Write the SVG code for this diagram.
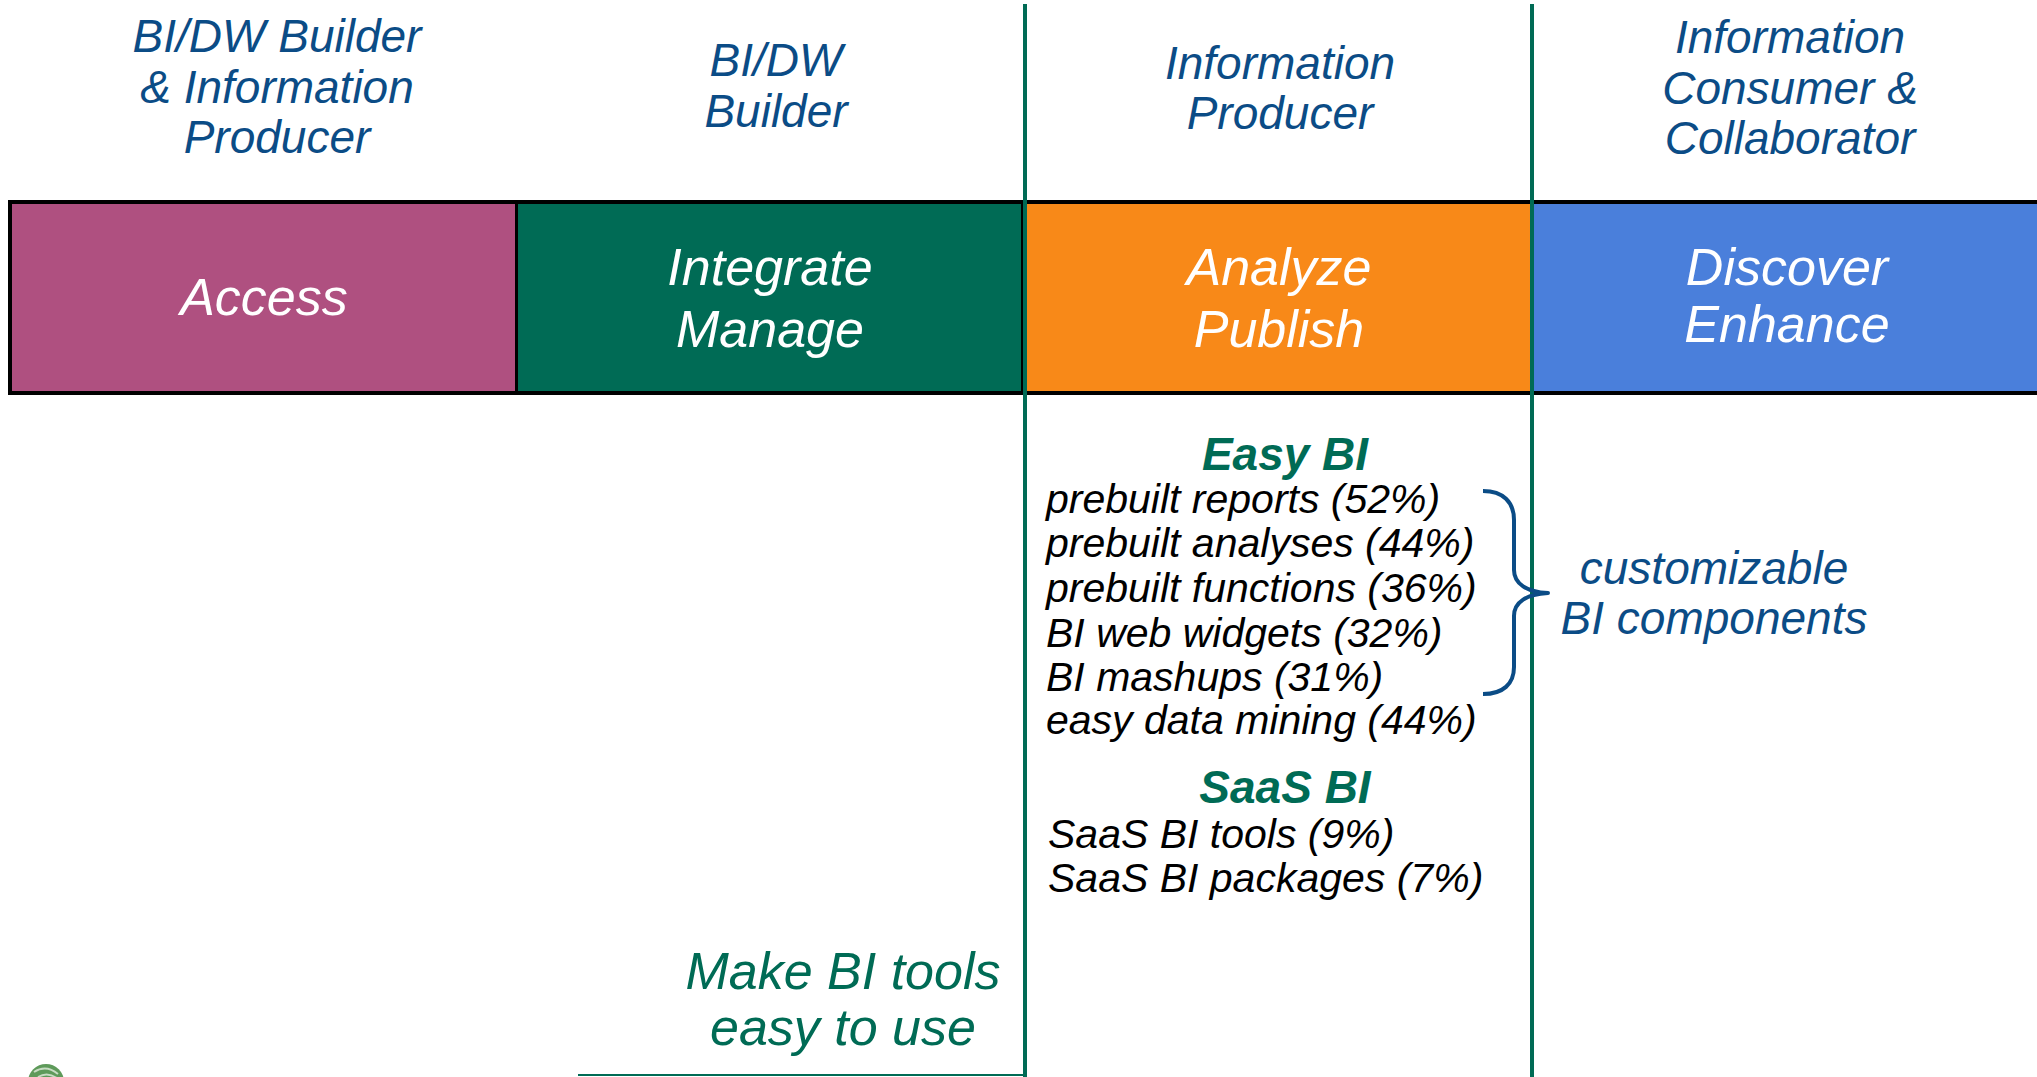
<svg xmlns="http://www.w3.org/2000/svg" width="2037" height="1077" viewBox="0 0 2037 1077">
<style>
  text { font-family: "Liberation Sans", Arial, sans-serif; font-style: italic; }
  .hdr { fill: #0B4C86; font-size: 46px; text-anchor: middle; }
  .band { fill: #FFFFFF; font-size: 52px; text-anchor: middle; }
  .ttl { fill: #006B55; font-size: 46px; font-weight: bold; text-anchor: middle; }
  .item { fill: #000000; font-size: 41px; }
  .note { fill: #0B4C86; font-size: 46px; text-anchor: middle; }
  .goal { fill: #006B55; font-size: 52px; text-anchor: middle; }
  .vline { stroke: #006B55; stroke-width: 4; fill: none; }
</style>
<rect x="0" y="0" width="2037" height="1077" fill="#FFFFFF"/>

<g id="headers">
  <g id="hdr-builder-producer">
    <text class="hdr" x="277" y="52">BI/DW Builder</text>
    <text class="hdr" x="277" y="103">&amp; Information</text>
    <text class="hdr" x="277" y="153">Producer</text>
  </g>
  <g id="hdr-builder">
    <text class="hdr" x="776" y="76">BI/DW</text>
    <text class="hdr" x="776" y="127">Builder</text>
  </g>
  <g id="hdr-producer">
    <text class="hdr" x="1280" y="79">Information</text>
    <text class="hdr" x="1280" y="129">Producer</text>
  </g>
  <g id="hdr-consumer">
    <text class="hdr" x="1790" y="53">Information</text>
    <text class="hdr" x="1790" y="104">Consumer &amp;</text>
    <text class="hdr" x="1790" y="154">Collaborator</text>
  </g>
</g>

<g id="band">
  <rect x="8" y="200" width="2032" height="195" fill="#000000"/>
  <g id="node-access">
    <rect x="12" y="204" width="503" height="187" fill="#AF5080"/>
    <text class="band" x="264" y="315">Access</text>
  </g>
  <g id="node-integrate">
    <rect x="518" y="204" width="503" height="187" fill="#006B55"/>
    <text class="band" x="770" y="285">Integrate</text>
    <text class="band" x="770" y="347">Manage</text>
  </g>
  <g id="node-analyze">
    <rect x="1023" y="204" width="507" height="187" fill="#F88918"/>
    <text class="band" x="1279" y="285">Analyze</text>
    <text class="band" x="1279" y="347">Publish</text>
  </g>
  <g id="node-discover">
    <rect x="1532" y="204" width="505" height="187" fill="#4A7FDB"/>
    <text class="band" x="1787" y="285">Discover</text>
    <text class="band" x="1787" y="342">Enhance</text>
  </g>
</g>

<g id="node-easy-bi">
  <text class="ttl" x="1285" y="470">Easy BI</text>
  <text class="item" x="1046" y="513">prebuilt reports (52%)</text>
  <text class="item" x="1046" y="557">prebuilt analyses (44%)</text>
  <text class="item" x="1046" y="602">prebuilt functions (36%)</text>
  <text class="item" x="1046" y="647">BI web widgets (32%)</text>
  <text class="item" x="1046" y="691">BI mashups (31%)</text>
  <text class="item" x="1046" y="734">easy data mining (44%)</text>
</g>

<g id="node-saas-bi">
  <text class="ttl" x="1285" y="803">SaaS BI</text>
  <text class="item" x="1048" y="848">SaaS BI tools (9%)</text>
  <text class="item" x="1048" y="892">SaaS BI packages (7%)</text>
</g>

<g id="node-components">
  <text class="note" x="1714" y="584">customizable</text>
  <text class="note" x="1714" y="634">BI components</text>
</g>

<g id="node-goal">
  <text class="goal" x="843" y="989">Make BI tools</text>
  <text class="goal" x="843" y="1045">easy to use</text>
</g>

<g id="logo">
  <circle cx="46" cy="1082" r="18" fill="#5E9A5A"/>
  <path d="M34,1072 Q46,1064 58,1074" stroke="#C8DCC4" stroke-width="2" fill="none"/>
  <path d="M38,1077 Q48,1071 58,1079" stroke="#C8DCC4" stroke-width="2" fill="none"/>
</g>

<g id="connectors">
  <line class="vline" x1="1025" y1="4" x2="1025" y2="1077"/>
  <line class="vline" x1="1532" y1="4" x2="1532" y2="1077"/>
  <line x1="578" y1="1075" x2="1025" y2="1075" stroke="#006B55" stroke-width="2"/>
  <path id="brace" d="M1483,491 C1503,491 1514,502 1514,520 L1514,570 C1514,584 1527,592 1548,593 C1527,594 1514,602 1514,616 L1514,667 C1514,684 1503,694 1483,694" fill="none" stroke="#0B4C86" stroke-width="4" stroke-linejoin="round"/>
</g>
</svg>
